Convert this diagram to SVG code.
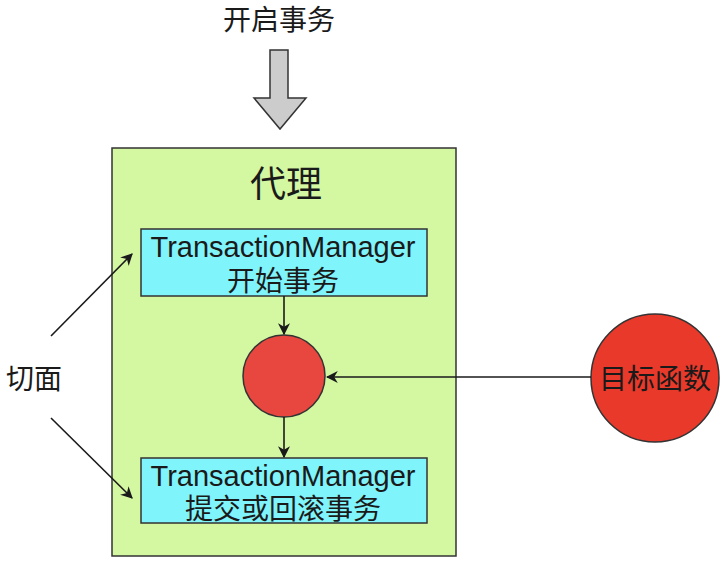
<svg xmlns="http://www.w3.org/2000/svg" width="728" height="568" viewBox="0 0 728 568">
<defs>
<style>
text{font-family:"Liberation Sans","Noto Sans CJK SC",sans-serif;fill:#1a1a1a;text-anchor:middle}
.c{stroke:#1a1a1a;stroke-width:1.6;fill:none}
</style>
<marker id="ah" viewBox="0 0 10 10" refX="9" refY="5" markerWidth="7" markerHeight="7" orient="auto" markerUnits="userSpaceOnUse" >
<path d="M0,0 L10,5 L0,10 L3,5 Z" fill="#1a1a1a"/>
</marker>
<marker id="ah2" viewBox="0 0 10 10" refX="9" refY="5" markerWidth="12" markerHeight="12" orient="auto" markerUnits="userSpaceOnUse">
<path d="M0,0 L10,5 L0,10 L3,5 Z" fill="#1a1a1a"/>
</marker>
</defs>
<rect width="728" height="568" fill="#ffffff"/>
<g id="start">
<text x="279" y="30" font-size="28">开启事务</text>
<path d="M270,50 L288,50 L288,98 L306,98 L280,129 L254,98 L270,98 Z" fill="#cccccc" stroke="#333" stroke-width="1.5"/>
</g>
<g id="proxy">
<rect x="112" y="148" width="344" height="408" fill="#d4f7a2" stroke="#333" stroke-width="1.5"/>
<text x="286" y="197" font-size="36">代理</text>
</g>
<g id="tm1">
<rect x="141" y="229" width="286" height="67" fill="#80f4fb" stroke="#333" stroke-width="1.5"/>
<text x="283" y="257" font-size="29">TransactionManager</text>
<text x="283" y="291" font-size="28">开始事务</text>
</g>
<g id="inner">
<circle cx="284" cy="376" r="41" fill="#e8473f" stroke="#333" stroke-width="1.5"/>
</g>
<g id="tm2">
<rect x="141" y="458" width="286" height="65" fill="#80f4fb" stroke="#333" stroke-width="1.5"/>
<text x="283" y="486" font-size="29">TransactionManager</text>
<text x="283" y="519" font-size="28">提交或回滚事务</text>
</g>
<g id="target">
<circle cx="655" cy="378" r="64" fill="#e8392a" stroke="#333" stroke-width="1.5"/>
<text x="655" y="389" font-size="28">目标函数</text>
</g>
<g id="aspect">
<text x="34" y="389" font-size="28">切面</text>
</g>
<g id="connectors">
<line class="c" x1="284" y1="296" x2="284" y2="334" marker-end="url(#ah2)"/>
<line class="c" x1="284" y1="417" x2="284" y2="457" marker-end="url(#ah2)"/>
<line class="c" x1="591" y1="377" x2="327" y2="377" marker-end="url(#ah2)"/>
<line class="c" x1="51" y1="336" x2="132" y2="254" marker-end="url(#ah2)"/>
<line class="c" x1="51" y1="418" x2="132" y2="498" marker-end="url(#ah2)"/>
</g>
</svg>
